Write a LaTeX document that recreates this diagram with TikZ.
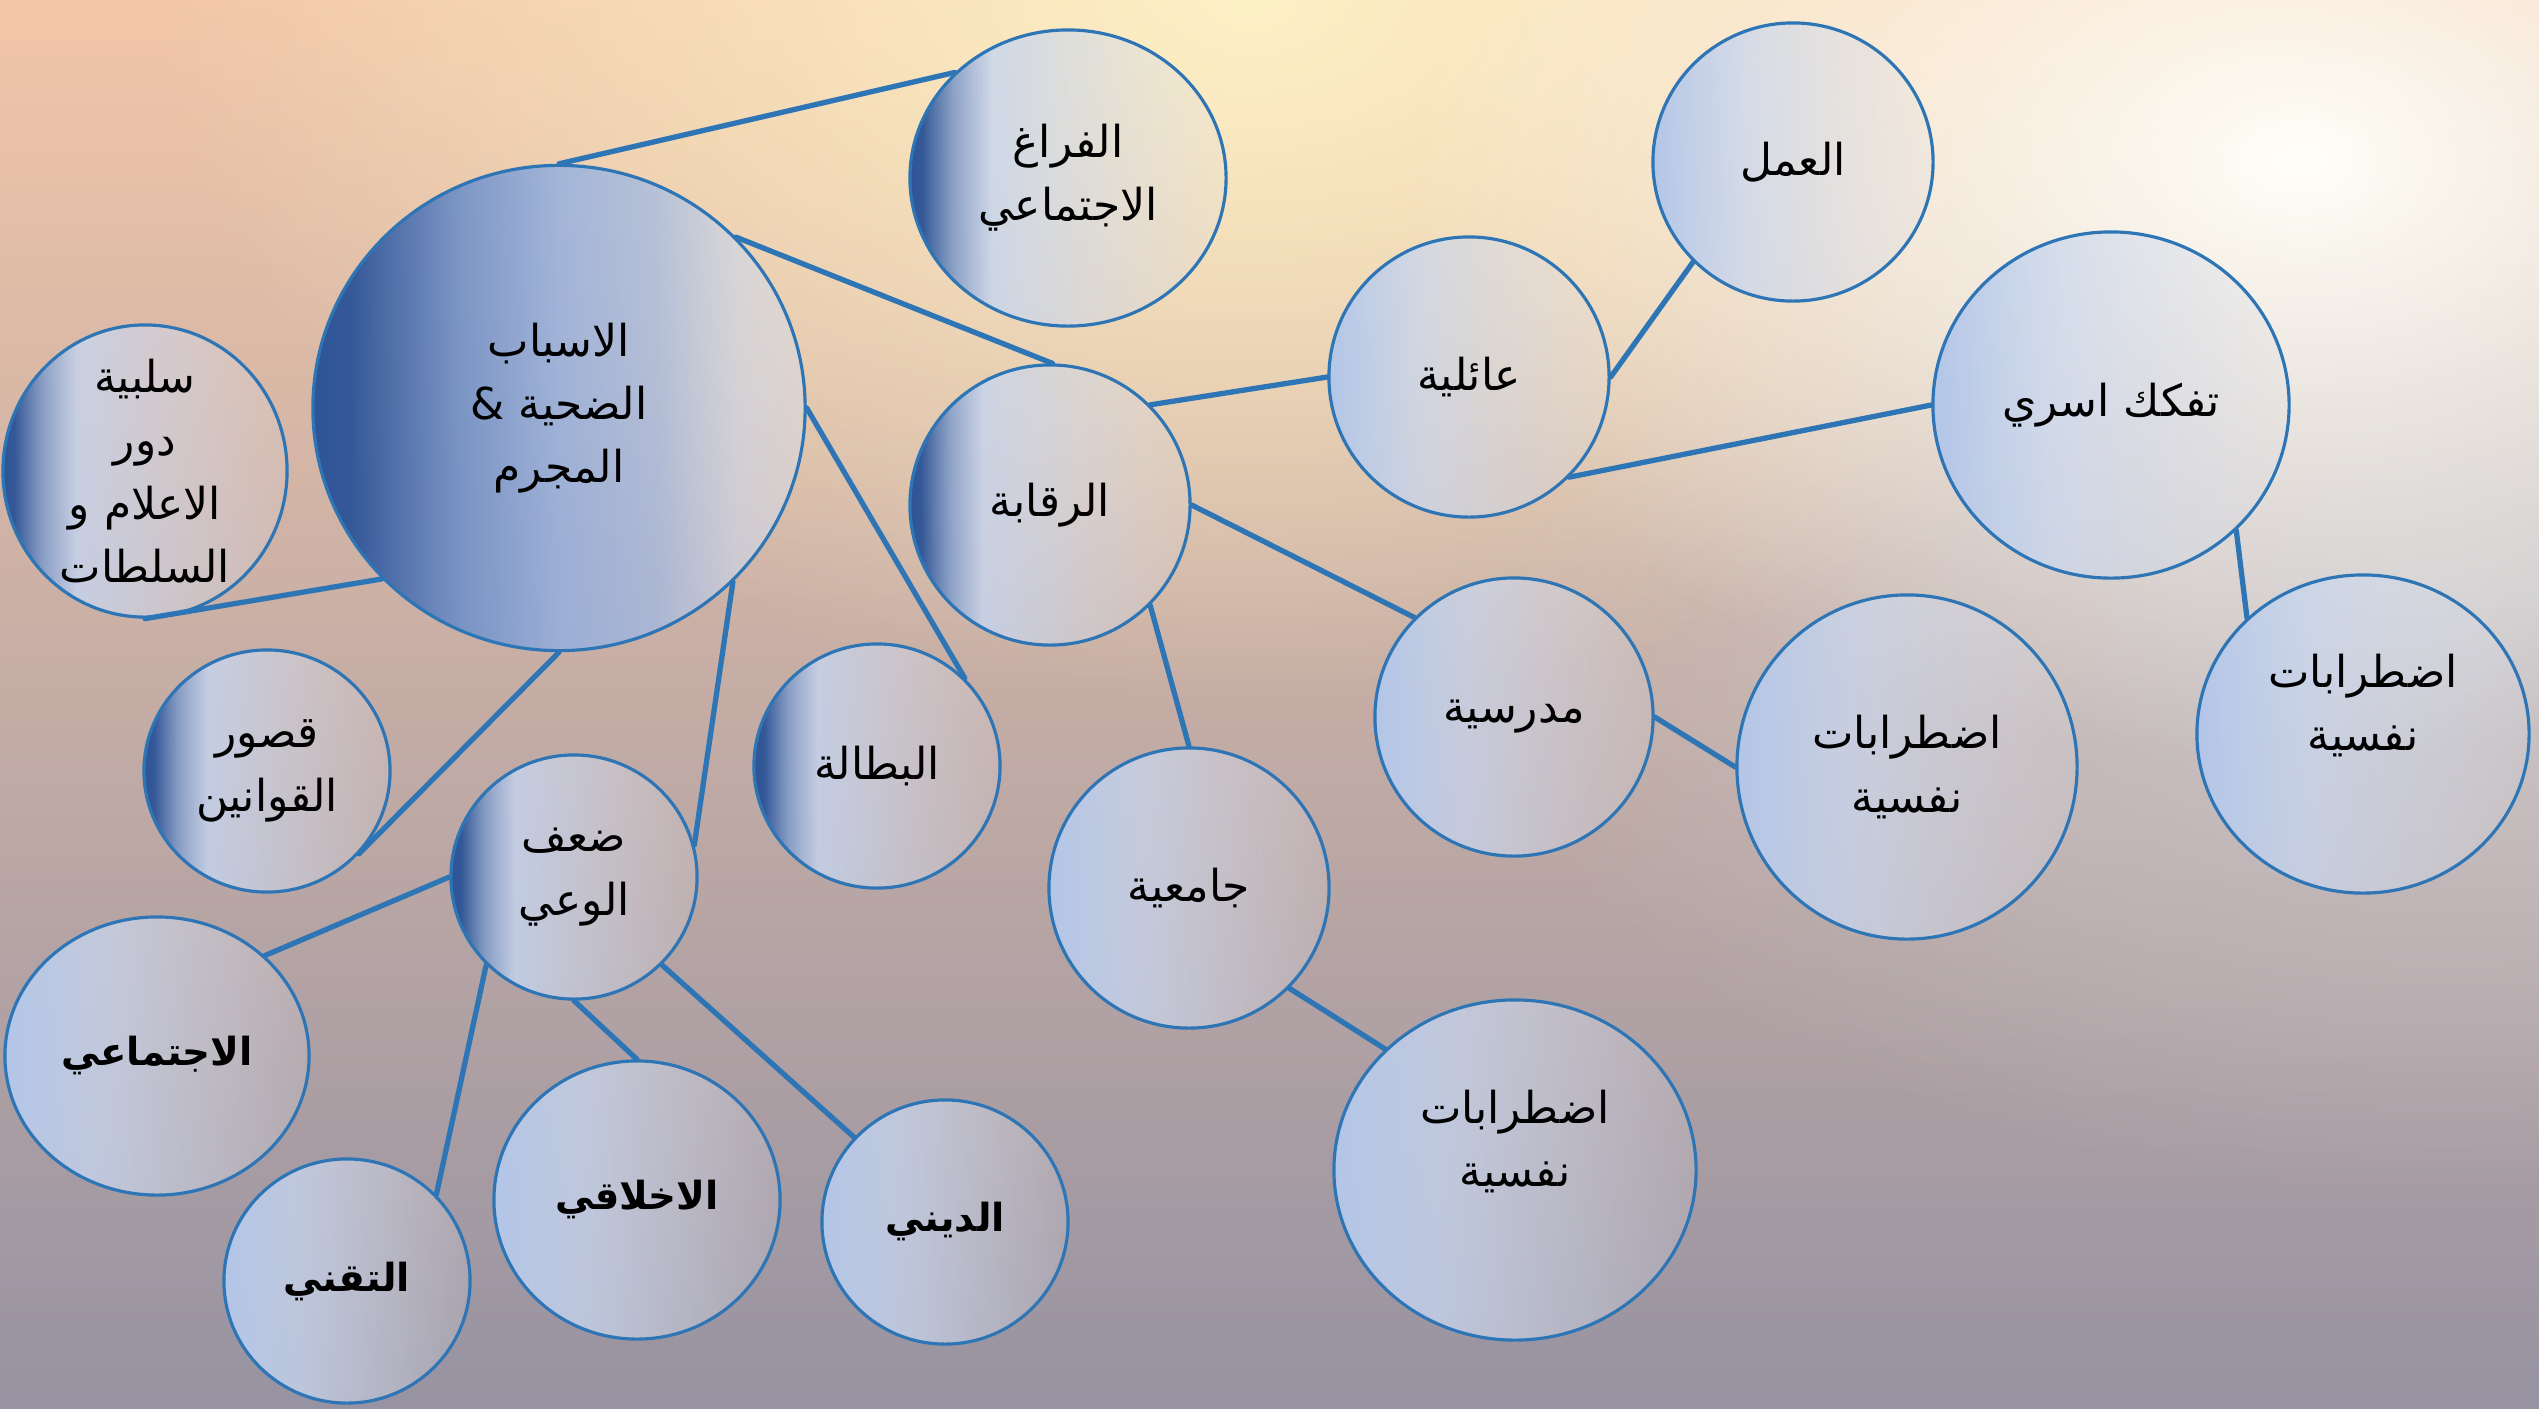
\documentclass[tikz,border=0pt]{standalone}
\usepackage{fontspec}
\usepackage{xcolor}
\usepackage{tikz}
\usetikzlibrary{shapes.geometric,fadings}
\newfontfamily\arabicfont[Script=Arabic]{DejaVu Sans}
\TeXXeTstate=1
\newcommand{\artext}[1]{\beginR #1\endR}
\definecolor{edge}{HTML}{2E75B6}
\definecolor{deepblue}{HTML}{2F5597}
\definecolor{midblue}{HTML}{8EAEE4}
\definecolor{lightblue}{HTML}{C5D6F2}
\definecolor{paleblue}{HTML}{B3C6E8}
\definecolor{palegray}{HTML}{DADCE6}
\definecolor{bgtop}{HTML}{F2C6A8}
\definecolor{bgmid}{HTML}{C4A5A7}
\definecolor{bgbot}{HTML}{9793A2}
\definecolor{bggray}{HTML}{C9C7CB}
\definecolor{glowyel}{HTML}{FDF1C6}
\definecolor{glowwht}{HTML}{FFFFF8}
\pgfdeclarehorizontalshading{bigball}{100bp}{color(0bp)=(deepblue); color(25bp)=(deepblue); color(29bp)=(deepblue); color(40bp)=(deepblue!35!midblue); color(50bp)=(midblue); color(60bp)=(midblue!70!lightblue); color(68bp)=(lightblue!70!palegray); color(75bp)=(palegray); color(100bp)=(palegray)}
\pgfdeclarehorizontalshading{darkball}{100bp}{color(0bp)=(deepblue); color(25bp)=(deepblue); color(27bp)=(deepblue); color(32bp)=(deepblue!45!lightblue); color(38bp)=(lightblue); color(75bp)=(palegray); color(100bp)=(palegray)}
\pgfdeclarehorizontalshading{paleball}{100bp}{color(0bp)=(paleblue); color(25bp)=(paleblue); color(42bp)=(lightblue!80!palegray); color(75bp)=(palegray); color(100bp)=(palegray)}
\tikzfading[name=ballfade, left color=transparent!0, middle color=transparent!15, right color=transparent!80]
\tikzfading[name=mainfade, left color=transparent!0, middle color=transparent!0, right color=transparent!45]
\tikzfading[name=glowfade, inner color=transparent!0, outer color=transparent!100]
\tikzset{
  link/.style={draw=edge, line width=1.5pt, line cap=round},
  bub/.style={ellipse, draw=edge, line width=0.9pt, inner sep=-8mm, align=center,
    text=black, font=\arabicfont\fontsize{12.5}{18}\selectfont},
  sz/.style 2 args={minimum width=#1, minimum height=#2},
  mainbub/.style={bub, preaction={shade, shading=bigball, path fading=mainfade}},
  deepbub/.style={bub, preaction={shade, shading=darkball, path fading=ballfade}},
  palebub/.style={bub, preaction={shade, shading=paleball, path fading=ballfade}},
  strong/.style={font=\arabicfont\bfseries\fontsize{11}{18}\selectfont}
}
\begin{document}
\begin{tikzpicture}[x=0.01cm, y=-0.01cm]
  \useasboundingbox (0,0) rectangle (2539,1408);
  % backdrop
  \shade[top color=bgtop, middle color=bgmid, bottom color=bgbot] (0,0) rectangle (2539,1408);
  \fill[bggray, path fading=glowfade] (2450,600) ellipse (10cm and 6cm);
  \fill[glowyel, path fading=glowfade] (1250,0) ellipse (11cm and 7cm);
  \fill[glowwht, path fading=glowfade] (2300,160) ellipse (9cm and 6cm);

  % bubbles
  \node[mainbub, sz={4.92cm}{4.85cm}] (causes) at (559,408) {\artext{الاسباب}\\\artext{الضحية \&}\\\artext{المجرم}};
  \node[deepbub, sz={3.16cm}{2.96cm}] (void) at (1068,178) {\artext{الفراغ}\\\artext{الاجتماعي}};
  \node[deepbub, sz={2.84cm}{2.92cm}] (media) at (145,471) {\artext{سلبية}\\\artext{دور}\\\artext{الاعلام و}\\\artext{السلطات}};
  \node[deepbub, sz={2.46cm}{2.42cm}] (laws) at (267,771) {\artext{قصور}\\\artext{القوانين}};
  \node[deepbub, sz={2.46cm}{2.44cm}] (aware) at (574,877) {\artext{ضعف}\\\artext{الوعي}};
  \node[deepbub, sz={2.46cm}{2.44cm}] (jobless) at (877,766) {\artext{البطالة}};
  \node[deepbub, sz={2.8cm}{2.8cm}] (control) at (1050,505) {\artext{الرقابة}};
  \node[palebub, sz={2.8cm}{2.8cm}] (family) at (1469,377) {\artext{عائلية}};
  \node[palebub, sz={2.8cm}{2.78cm}] (work) at (1793,162) {\artext{العمل}};
  \node[palebub, sz={3.56cm}{3.46cm}] (breakup) at (2111,405) {\artext{تفكك اسري}};
  \node[palebub, sz={3.32cm}{3.18cm}] (psyA) at (2363,734) {\artext{اضطرابات}\\\artext{نفسية}\\\mbox{}};
  \node[palebub, sz={2.78cm}{2.78cm}] (school) at (1514,717) {\artext{مدرسية}};
  \node[palebub, sz={3.4cm}{3.44cm}] (psyB) at (1907,767) {\artext{اضطرابات}\\\artext{نفسية}};
  \node[palebub, sz={2.8cm}{2.8cm}] (uni) at (1189,888) {\artext{جامعية}};
  \node[palebub, sz={3.62cm}{3.4cm}] (psyC) at (1515,1170) {\artext{اضطرابات}\\\artext{نفسية}\\\mbox{}};
  \node[palebub, strong, sz={3.04cm}{2.78cm}] (social) at (157,1056) {\artext{الاجتماعي}};
  \node[palebub, strong, sz={2.46cm}{2.44cm}] (tech) at (347,1281) {\artext{التقني}};
  \node[palebub, strong, sz={2.86cm}{2.78cm}] (moral) at (637,1200) {\artext{الاخلاقي}};
  \node[palebub, strong, sz={2.46cm}{2.44cm}] (faith) at (945,1222) {\artext{الديني}};

  % links
  \draw[link] (causes.90) -- (void.137);
  \draw[link] (causes.44) -- (control.89);
  \draw[link] (causes.0) -- (jobless.45);
  \draw[link] (causes.-45) -- (aware.15);
  \draw[link] (causes.-90) -- (laws.-42);
  \draw[link] (causes.-136) -- (media.-90);
  \draw[link] (control.45) -- (family.180);
  \draw[link] (control.0) -- (school.135);
  \draw[link] (control.-45) -- (uni.90);
  \draw[link] (family.0) -- (work.-135);
  \draw[link] (family.-45) -- (breakup.180);
  \draw[link] (breakup.-45) -- (psyA.135);
  \draw[link] (school.0) -- (psyB.180);
  \draw[link] (uni.-45) -- (psyC.137);
  \draw[link] (aware.180) -- (social.43);
  \draw[link] (aware.-135) -- (tech.44);
  \draw[link] (aware.-90) -- (moral.90);
  \draw[link] (aware.-45) -- (faith.137);
\end{tikzpicture}
\end{document}
